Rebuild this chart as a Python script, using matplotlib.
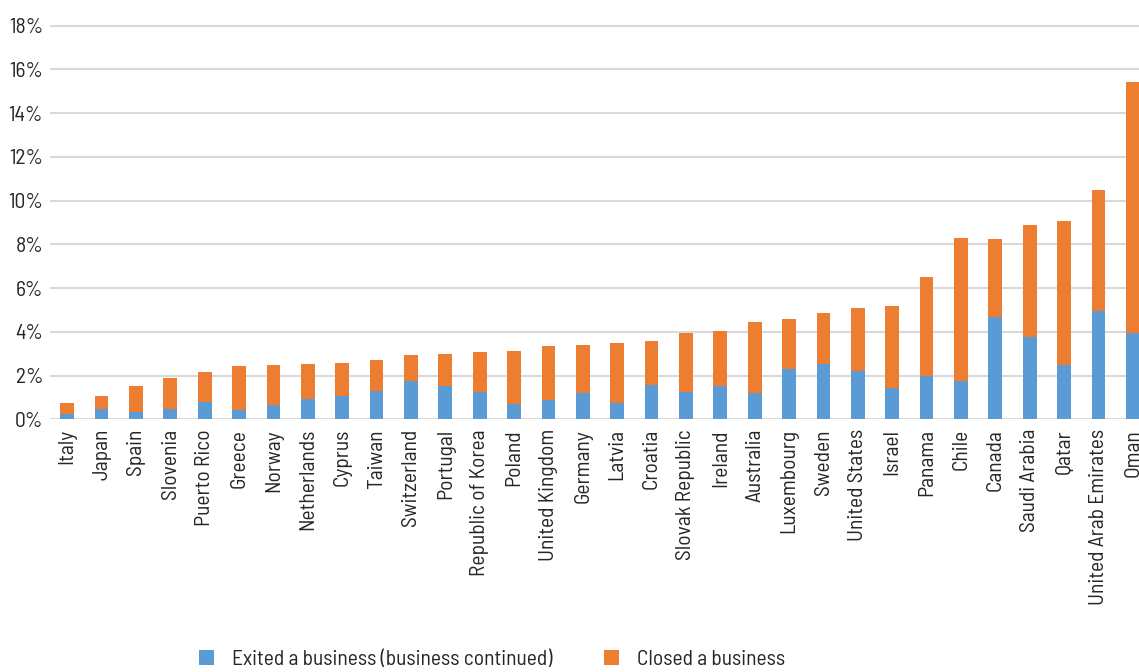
import matplotlib
matplotlib.use("Agg")
import matplotlib.pyplot as plt
from matplotlib.ticker import FuncFormatter
import numpy as np

countries = ["Italy", "Japan", "Spain", "Slovenia", "Puerto Rico", "Greece", "Norway",
             "Netherlands", "Cyprus", "Taiwan", "Switzerland", "Portugal",
             "Republic of Korea", "Poland", "United Kingdom", "Germany", "Latvia",
             "Croatia", "Slovak Republic", "Ireland", "Australia", "Luxembourg",
             "Sweden", "United States", "Israel", "Panama", "Chile", "Canada",
             "Saudi Arabia", "Qatar", "United Arab Emirates", "Oman"]
totals = [0.73, 1.05, 1.51, 1.90, 2.15, 2.45, 2.50, 2.53, 2.56, 2.70, 2.93, 2.97,
          3.06, 3.12, 3.37, 3.40, 3.47, 3.59, 3.93, 4.04, 4.43, 4.60, 4.85, 5.07,
          5.18, 6.49, 8.29, 8.23, 8.87, 9.05, 10.47, 15.41]
exited = [0.23, 0.46, 0.35, 0.47, 0.80, 0.44, 0.67, 0.91, 1.08, 1.31, 1.74, 1.51,
          1.23, 0.70, 0.90, 1.19, 0.73, 1.55, 1.26, 1.51, 1.19, 2.29, 2.54, 2.19,
          1.42, 1.99, 1.77, 4.66, 3.78, 2.48, 4.97, 3.93]
closed = [t - e for t, e in zip(totals, exited)]
y_ticks = [0, 2, 4, 6, 8, 10, 12, 14, 16, 18]

FONT = ["Barlow Semi Condensed", "DejaVu Sans"]
plt.rcParams['font.family'] = FONT
TXT = "#262626"
BLUE = "#5B9BD5"
ORANGE = "#ED7D31"

fig = plt.figure(figsize=(11.39, 6.72), dpi=100)
ax = fig.add_axes([50 / 1139, 252.7 / 672, 1100 / 1139, 400.2 / 672])

x = np.arange(len(countries))
ax.bar(x, exited, width=0.4, color=BLUE, label="Exited a business (business continued)", zorder=3)
ax.bar(x, closed, width=0.4, bottom=exited, color=ORANGE, label="Closed a business", zorder=3)

ax.set_xlim(-0.5, len(countries) - 0.5)
ax.set_ylim(0, 18.3)
ax.set_yticks(y_ticks)
ax.yaxis.set_major_formatter(FuncFormatter(lambda v, p: f"{v:.0f}%"))
ax.grid(axis='y', color="#d9d9d9", linewidth=1.5, zorder=0)
ax.set_axisbelow(True)
for s in ax.spines.values():
    s.set_visible(False)
ax.tick_params(axis='both', length=0, labelsize=15.5, colors=TXT)
ax.tick_params(axis='y', pad=5)
ax.tick_params(axis='x', pad=7)
ax.set_xticks(x)
ax.set_xticklabels(countries, rotation=90, va='top', ha='center')

handles, labels = ax.get_legend_handles_labels()
fig.legend(handles, labels, loc='center', bbox_to_anchor=(0.432, 0.019), ncol=2,
           frameon=False, fontsize=15.5, handlelength=0.7, handleheight=0.7,
           handletextpad=0.84, columnspacing=2.4, labelcolor=TXT)

fig.savefig("out.png", dpi=100)
